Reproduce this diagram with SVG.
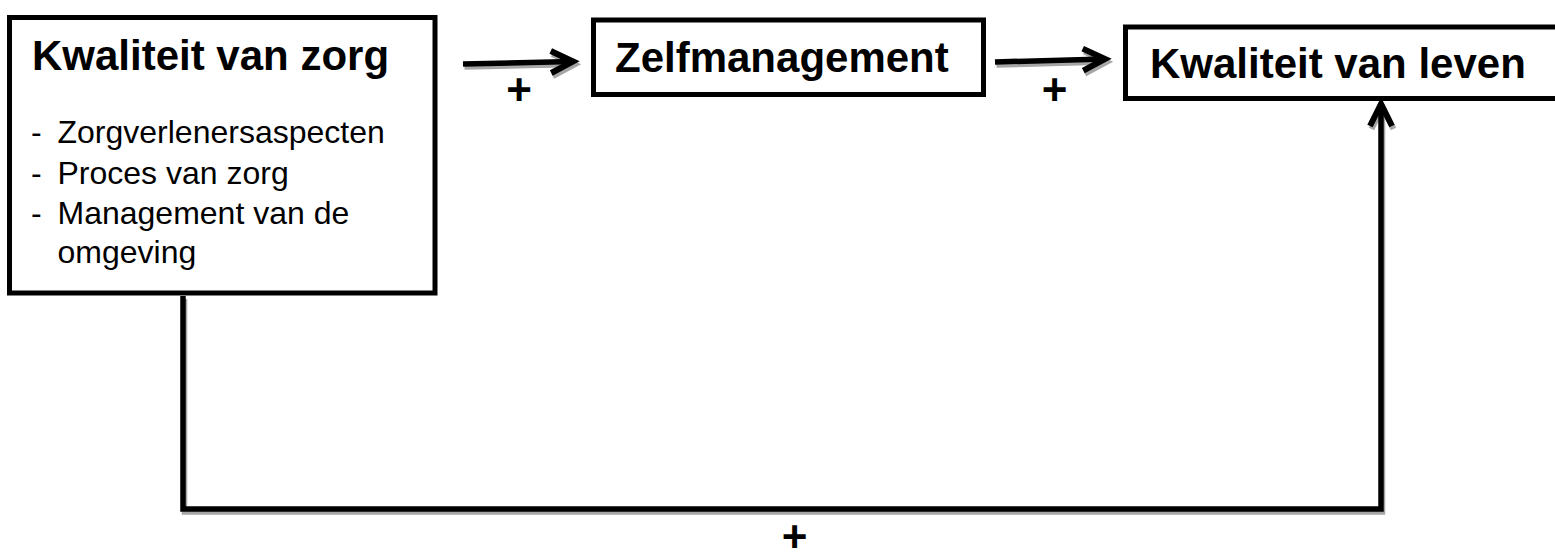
<svg xmlns="http://www.w3.org/2000/svg" width="1555" height="554" viewBox="0 0 1555 554">
<style>
.box{fill:#fff;stroke:#000;stroke-width:5}
.title{font-family:"Liberation Sans",Arial,sans-serif;font-weight:bold;font-size:42px;fill:#000}
.item{font-family:"Liberation Sans",Arial,sans-serif;font-size:32px;fill:#000}
.plus{font-family:"Liberation Sans",Arial,sans-serif;font-weight:bold;font-size:44px;fill:#000;text-anchor:middle}
.line{fill:none;stroke:#000;stroke-width:5.5}
.shadow{fill:none;stroke:#a6a6a6;stroke-width:5.5}
</style>
<defs>
<marker id="head" markerUnits="userSpaceOnUse" orient="auto" refX="0" refY="0" markerWidth="40" markerHeight="40" overflow="visible">
<path d="M-22,-11 L0,0 L-22,11" fill="none" stroke="#000" stroke-width="6"/>
</marker>
<marker id="headShadow" markerUnits="userSpaceOnUse" orient="auto" refX="0" refY="0" markerWidth="40" markerHeight="40" overflow="visible">
<path d="M-22,-11 L0,0 L-22,11" fill="none" stroke="#a6a6a6" stroke-width="6"/>
</marker>
</defs>
<rect width="1555" height="554" fill="#fff"/>
<g id="connectors">
<g transform="translate(1.5,3)">
<path class="shadow" d="M463,64 L573,61.5" marker-end="url(#headShadow)"/>
<path class="shadow" d="M995,62 L1105,59" marker-end="url(#headShadow)"/>
<path class="shadow" d="M183,296 L183,509 L1381,509 L1381,104" marker-end="url(#headShadow)"/>
</g>
<path class="line" d="M463,64 L573,61.5" marker-end="url(#head)"/>
<path class="line" d="M995,62 L1105,59" marker-end="url(#head)"/>
<path class="line" d="M183,296 L183,509 L1381,509 L1381,104" marker-end="url(#head)"/>
<text class="plus" x="519" y="105">+</text>
<text class="plus" x="1054.5" y="105">+</text>
<text class="plus" x="794.5" y="552">+</text>
</g>
<g id="kwaliteit-van-zorg">
<rect class="box" x="9.5" y="17.5" width="425.5" height="275.5"/>
<text class="title" x="32" y="70">Kwaliteit van zorg</text>
<text class="item" x="31" y="143">-</text>
<text class="item" x="57.5" y="143">Zorgverlenersaspecten</text>
<text class="item" x="31" y="184">-</text>
<text class="item" x="57.5" y="184">Proces van zorg</text>
<text class="item" x="31" y="224">-</text>
<text class="item" x="57.5" y="224">Management van de</text>
<text class="item" x="57.5" y="263">omgeving</text>
</g>
<g id="zelfmanagement">
<rect class="box" x="593.5" y="20" width="390" height="74.5"/>
<text class="title" x="615" y="72">Zelfmanagement</text>
</g>
<g id="kwaliteit-van-leven">
<rect class="box" x="1125.5" y="27" width="440" height="71.5"/>
<text class="title" x="1150" y="78">Kwaliteit van leven</text>
</g>
</svg>
